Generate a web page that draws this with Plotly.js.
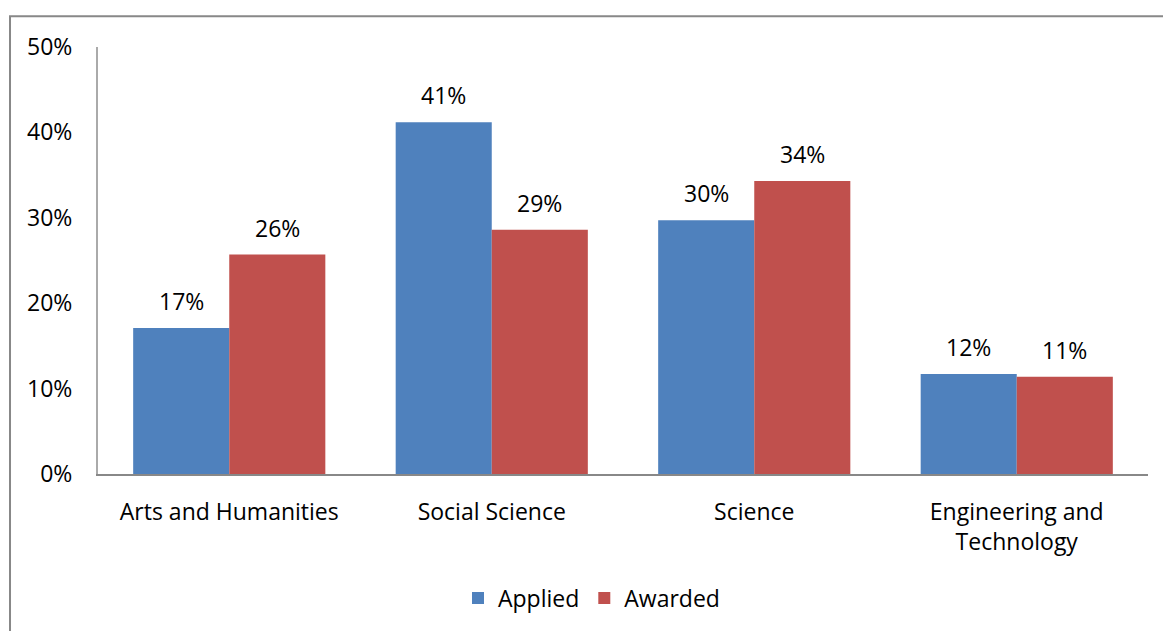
<!DOCTYPE html>
<html>
<head>
<meta charset="utf-8">
<script src="https://cdn.plot.ly/plotly-3.0.1.min.js"></script>
<style>html,body{margin:0;padding:0;background:#fff;}#chart{width:1163px;height:631px;}</style>
</head>
<body>
<div id="chart"></div>
<script>
const categories = ["Arts and Humanities", "Social Science", "Science", "Engineering and<br>Technology"];
const applied = [0.171, 0.412, 0.297, 0.117];
const awarded = [0.257, 0.286, 0.343, 0.114];
const yTicks = [0, 0.1, 0.2, 0.3, 0.4, 0.5];

const font = "Open Sans, Noto Sans, sans-serif";
const fs = 23;
const traces = [
  {type: "bar", name: "Applied", x: categories, y: applied, marker: {color: "#4F81BD"}, hoverinfo: "none"},
  {type: "bar", name: "Awarded", x: categories, y: awarded, marker: {color: "#C0504D"}, hoverinfo: "none"}
];
const annotations = [];
[[applied, -48], [awarded, 48]].forEach(([vals, dx]) => {
  vals.forEach((v, i) => {
    annotations.push({x: categories[i], y: v, xref: "x", yref: "y", text: Math.round(v * 100) + "%",
      showarrow: false, xshift: dx, yanchor: "bottom", yshift: 9,
      font: {family: font, size: fs, color: "#000"}});
  });
});
const layout = {
  width: 1163, height: 631,
  margin: {l: 98, r: 15, t: 47, b: 155},
  paper_bgcolor: "#fff", plot_bgcolor: "#fff",
  font: {family: font, size: fs, color: "#000"},
  barmode: "group", bargap: 0.268, bargroupgap: 0,
  showlegend: true,
  legend: {orientation: "h", x: 0.47, xanchor: "center", y: -0.24, yanchor: "top",
           font: {family: font, size: fs, color: "#000"}, itemwidth: 30, tracegroupgap: 0},
  xaxis: {showline: true, linecolor: "#888", linewidth: 2, ticks: "", showgrid: false,
          tickfont: {family: font, size: fs}, ticklabelstandoff: 16},
  yaxis: {range: [0, 0.5], tickvals: yTicks, tickformat: ".0%", showline: true, linecolor: "#aaa",
          linewidth: 2, ticks: "", showgrid: false, zeroline: false,
          tickfont: {family: font, size: fs}, ticklabelstandoff: 19},
  annotations: annotations,
  shapes: [{type: "rect", xref: "paper", yref: "paper", x0: -0.0838, x1: 1.03, y0: -0.4, y1: 1.0723,
            line: {color: "#888", width: 2}, fillcolor: "rgba(0,0,0,0)", layer: "below"}]
};
Plotly.newPlot("chart", traces, layout, {displayModeBar: false, staticPlot: true});
</script>
</body>
</html>
